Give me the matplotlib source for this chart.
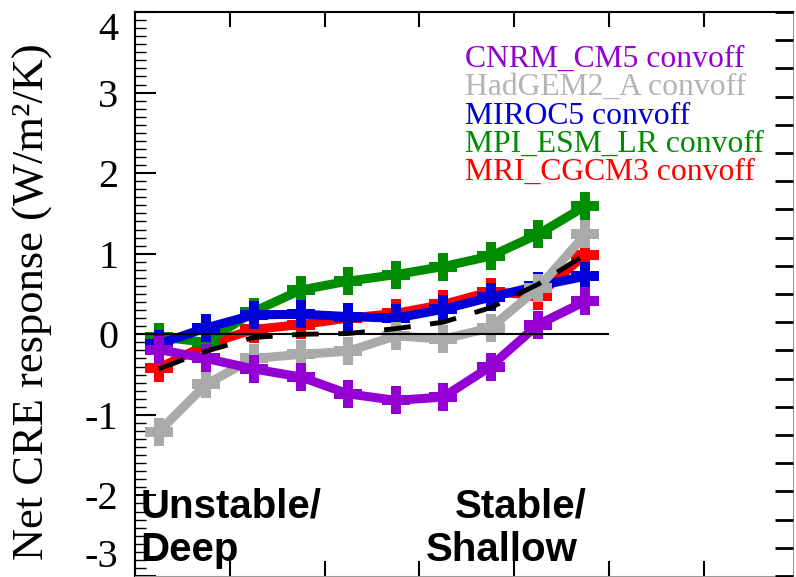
import numpy as np
import matplotlib
matplotlib.use('Agg')
import matplotlib.pyplot as plt
from matplotlib.ticker import MultipleLocator

plt.rcParams['font.family'] = 'Liberation Serif'

# stability bins, unstable/deep -> stable/shallow
bins = np.arange(10) + 0.5

cnrm = [-0.19, -0.30, -0.43, -0.53, -0.74, -0.82, -0.78, -0.40, 0.12, 0.41]
hadgem = [-1.21, -0.62, -0.30, -0.25, -0.21, -0.02, -0.06, 0.08, 0.57, 1.24]
miroc = [-0.12, 0.08, 0.24, 0.25, 0.22, 0.20, 0.31, 0.46, 0.60, 0.72]
mpi = [-0.03, -0.10, 0.28, 0.55, 0.66, 0.74, 0.84, 0.97, 1.24, 1.59]
mri = [-0.42, -0.13, 0.06, 0.12, 0.20, 0.26, 0.37, 0.53, 0.48, 0.99]
mean = [-0.43, -0.21, -0.04, 0.00, 0.01, 0.07, 0.15, 0.33, 0.62, 0.99]

names = ['CNRM_CM5 convoff', 'HadGEM2_A convoff', 'MIROC5 convoff',
         'MPI_ESM_LR convoff', 'MRI_CGCM3 convoff']
series = [cnrm, hadgem, miroc, mpi, mri]
colors = ['#9400d3', '#a9aba9', '#0000d8', '#008c00', '#ff0000']
text_colors = ['#9400d3', '#b4b4b4', '#0000d8', '#008c00', '#ff0000']
yticks = [-3, -2, -1, 0, 1, 2, 3, 4]

W, H = 796, 577
fig = plt.figure(figsize=(W / 100, H / 100), dpi=100)
x0, x1, y0, y1 = 135, 793, 12, 576
ax = fig.add_axes([x0 / W, 1 - y1 / H, (x1 - x0) / W, (y1 - y0) / H])

# drawn in reverse order, CNRM ends up on top
for i in range(len(series) - 1, -1, -1):
    ax.plot(bins, series[i], color=colors[i], lw=6.5, marker='P',
            markersize=20, markeredgewidth=0, zorder=2 + (4 - i))

ax.hlines(0, 0, 10, color='black', lw=1.5, zorder=10)
ax.plot(bins, mean, color='black', lw=3.5, dashes=(5.5, 4), zorder=11)

ax.set_xlim(0, (x1 - x0) / 47.4)
ax.set_ylim(-3, 4)
ax.set_xticks(np.arange(0, 13, 2))
ax.set_xticklabels([])
ax.set_yticks(yticks)
ax.set_yticklabels([str(v) for v in yticks], fontsize=29)
ax.yaxis.set_minor_locator(MultipleLocator(0.1))
ax.tick_params(axis='x', which='both', direction='in', top=True, bottom=True,
               length=11, width=1.5)
ax.tick_params(axis='y', which='major', direction='in', left=True, right=False,
               length=15, width=1.5, pad=12)
ax.tick_params(axis='y', which='minor', direction='in', left=True, right=False,
               length=8, width=1)
for lab in ax.get_yticklabels():
    if lab.get_text() == '4':
        lab.set_va('top')
    if lab.get_text() == '-3':
        lab.set_va('bottom')

for s in ['left', 'top']:
    ax.spines[s].set_linewidth(1.5)
ax.spines['right'].set_color('#999999')
ax.spines['bottom'].set_color('#999999')

ax2 = ax.twinx()
ax2.set_ylim(0, 20)
ax2.set_yticks(np.arange(21))
ax2.tick_params(axis='y', direction='in', length=13, width=2, labelright=False)
for s in ax2.spines.values():
    s.set_visible(False)

# legend as coloured text
for i, name in enumerate(names):
    ax.text(0.5015, 0.9025 - i * 0.0501, name, color=text_colors[i],
            fontsize=22.8, transform=ax.transAxes, va='baseline', ha='left',
            zorder=20)

bold = dict(family='Liberation Sans', weight='bold', fontsize=29,
            transform=ax.transAxes, va='baseline', zorder=20)
ax.text(0.008, 0.1046, 'Unstable/', ha='left', **bold)
ax.text(0.008, 0.027, 'Deep', ha='left', **bold)
ax.text(0.687, 0.1046, 'Stable/', ha='right', **bold)
ax.text(0.673, 0.027, 'Shallow', ha='right', **bold)

fig.text(33 / W, 1 - 302 / H, 'Net CRE response (W/m²/K)', rotation=90,
         ha='center', va='center', fontsize=32)

fig.savefig('out.png', dpi=100)
